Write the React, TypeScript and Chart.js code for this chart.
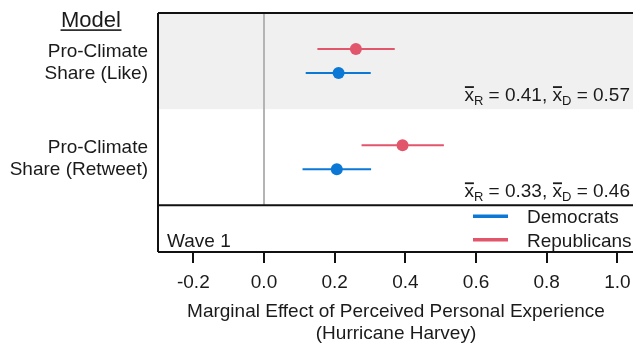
import React, { useEffect, useRef } from "react";
import { Chart, registerables } from "chart.js";

Chart.register(...registerables);

const FONT = '"Liberation Sans", Arial, Helvetica, sans-serif';
const TEXT = "#1a1a1a";
const DEM = "#0B78D6";
const REP = "#E2566C";

// ---- data ----
const modelLabels: string[][] = [
  ["Pro-Climate", "Share (Like)"],
  ["Pro-Climate", "Share (Retweet)"],
];
const demEst = [0.211, 0.206];
const demLo = [0.118, 0.109];
const demHi = [0.302, 0.303];
const repEst = [0.26, 0.392];
const repLo = [0.151, 0.276];
const repHi = [0.37, 0.509];
const meanR = [0.41, 0.33];
const meanD = [0.57, 0.46];
const xTicks = [-0.2, 0, 0.2, 0.4, 0.6, 0.8, 1.0];
const seriesNames = ["Democrats", "Republicans"];
const seriesColors = [DEM, REP];
const waveLabel = "Wave 1";
const headerLabel = "Model";
const axisTitle = ["Marginal Effect of Perceived Personal Experience", "(Hurricane Harvey)"];

const DODGE = 0.25;
const centerOf = (i: number) => 2 * i + 1;

function drawMean(ctx: CanvasRenderingContext2D, rightX: number, baseY: number, r: number, d: number) {
  const big = `19px ${FONT}`;
  const small = `13px ${FONT}`;
  const parts = [
    { t: "x", f: big, bar: true, dy: 0 },
    { t: "R", f: small, bar: false, dy: 3.5 },
    { t: ` = ${r.toFixed(2)}, `, f: big, bar: false, dy: 0 },
    { t: "x", f: big, bar: true, dy: 0 },
    { t: "D", f: small, bar: false, dy: 3.5 },
    { t: ` = ${d.toFixed(2)}`, f: big, bar: false, dy: 0 },
  ];
  let total = 0;
  const widths = parts.map((p) => {
    ctx.font = p.f;
    const w = ctx.measureText(p.t).width;
    total += w;
    return w;
  });
  let px = rightX - total;
  ctx.textAlign = "left";
  ctx.textBaseline = "alphabetic";
  parts.forEach((p, k) => {
    ctx.font = p.f;
    ctx.fillText(p.t, px, baseY + p.dy);
    if (p.bar) ctx.fillRect(px + 0.5, baseY - 15, widths[k] - 0.5, 1.8);
    px += widths[k];
  });
}

const decor = {
  id: "decor",
  beforeDatasetsDraw(chart: any) {
    const { ctx, chartArea: a, scales } = chart;
    const x = scales.x, y = scales.y;
    ctx.save();
    modelLabels.forEach((_, i) => {
      if (i % 2 === 0) {
        const t = y.getPixelForValue(2 * i);
        const b = y.getPixelForValue(2 * i + 2);
        ctx.fillStyle = "#F0F0F0";
        ctx.fillRect(a.left, t, a.right - a.left, b - t);
      }
    });
    const x0 = x.getPixelForValue(0);
    ctx.strokeStyle = "#B4B4B4";
    ctx.lineWidth = 2;
    ctx.beginPath();
    ctx.moveTo(x0, a.top);
    ctx.lineTo(x0, y.getPixelForValue(2 * modelLabels.length));
    ctx.stroke();
    ctx.restore();
  },
  afterDraw(chart: any) {
    const { ctx, chartArea: a, scales } = chart;
    const y = scales.y;
    ctx.save();
    // box
    ctx.strokeStyle = "#111";
    ctx.lineWidth = 2;
    const sep = y.getPixelForValue(2 * modelLabels.length);
    ctx.beginPath();
    ctx.moveTo(a.left, a.top); ctx.lineTo(a.right, a.top);
    ctx.moveTo(a.left, a.top); ctx.lineTo(a.left, a.bottom);
    ctx.moveTo(a.left, a.bottom); ctx.lineTo(a.right, a.bottom);
    ctx.moveTo(a.right, a.top); ctx.lineTo(a.right, a.bottom);
    ctx.moveTo(a.left, sep); ctx.lineTo(a.right, sep);
    ctx.stroke();

    ctx.fillStyle = TEXT;
    // header
    ctx.font = `22px ${FONT}`;
    ctx.textAlign = "center";
    ctx.textBaseline = "alphabetic";
    const hx = a.left - 67;
    ctx.fillText(headerLabel, hx, a.top + 14);
    const hw = ctx.measureText(headerLabel).width;
    ctx.fillRect(hx - hw / 2 - 0.5, a.top + 16.3, hw + 1, 1.6);

    // model labels
    ctx.font = `19px ${FONT}`;
    ctx.textAlign = "right";
    modelLabels.forEach((lines, i) => {
      const cy = y.getPixelForValue(centerOf(i));
      ctx.fillText(lines[0], a.left - 10, cy - 4.2);
      ctx.fillText(lines[1], a.left - 10, cy + 18.2);
    });

    // means
    const annRight = a.right - 4;
    modelLabels.forEach((_, i) => {
      const by = y.getPixelForValue(2 * i + 2) - 8;
      drawMean(ctx, annRight, by, meanR[i], meanD[i]);
    });

    // wave label
    ctx.font = `19px ${FONT}`;
    ctx.textAlign = "left";
    ctx.fillText(waveLabel, a.left + 9, a.bottom - 5.5);

    // legend
    const lx0 = a.right - 161, lx1 = a.right - 126, tx = a.right - 107;
    const rows = [sep + 11, sep + 34.5];
    seriesNames.forEach((name, k) => {
      ctx.strokeStyle = seriesColors[k];
      ctx.lineWidth = 3.5;
      ctx.beginPath();
      ctx.moveTo(lx0, rows[k]);
      ctx.lineTo(lx1, rows[k]);
      ctx.stroke();
      ctx.fillStyle = TEXT;
      ctx.fillText(name, tx, rows[k] + 6.7);
    });
    ctx.restore();
  },
};

export default function App() {
  const ref = useRef<HTMLCanvasElement | null>(null);
  useEffect(() => {
    if (!ref.current) return;
    const pointSets = [
      {
        label: seriesNames[0],
        data: demEst.map((v, i) => ({ x: v, y: centerOf(i) + DODGE })),
        backgroundColor: DEM,
        borderWidth: 0,
        pointRadius: 6,
        showLine: false,
      },
      {
        label: seriesNames[1],
        data: repEst.map((v, i) => ({ x: v, y: centerOf(i) - DODGE })),
        backgroundColor: REP,
        borderWidth: 0,
        pointRadius: 6,
        showLine: false,
      },
    ];
    const barSets: any[] = [];
    modelLabels.forEach((_, i) => {
      barSets.push({
        label: "dem-ci-" + i,
        data: [
          { x: demLo[i], y: centerOf(i) + DODGE },
          { x: demHi[i], y: centerOf(i) + DODGE },
        ],
        borderColor: DEM,
        borderWidth: 2,
        pointRadius: 0,
        showLine: true,
      });
      barSets.push({
        label: "rep-ci-" + i,
        data: [
          { x: repLo[i], y: centerOf(i) - DODGE },
          { x: repHi[i], y: centerOf(i) - DODGE },
        ],
        borderColor: REP,
        borderWidth: 2,
        pointRadius: 0,
        showLine: true,
      });
    });
    const chart = new Chart(ref.current, {
      type: "scatter",
      data: { datasets: [...pointSets, ...barSets] as any },
      options: {
        animation: false,
        responsive: false,
        maintainAspectRatio: false,
        layout: { autoPadding: false, padding: { left: 158, top: 13, right: 0, bottom: 0 } },
        plugins: { legend: { display: false }, tooltip: { enabled: false } },
        scales: {
          x: {
            type: "linear",
            min: -0.3,
            max: 1.047,
            afterBuildTicks: (s: any) => {
              s.ticks = xTicks.map((v) => ({ value: v }));
            },
            afterFit: (s: any) => {
              s.height = 96;
              s.paddingLeft = 0;
              s.paddingRight = 0;
            },
            border: { display: false },
            grid: {
              drawOnChartArea: false,
              drawTicks: true,
              tickLength: 11,
              color: "#111",
              lineWidth: 2,
            },
            ticks: {
              padding: 8,
              color: TEXT,
              font: { family: FONT, size: 19 },
              maxRotation: 0,
              autoSkip: false,
              callback: (v: any) => Number(v).toFixed(1),
            },
            title: {
              display: true,
              text: axisTitle,
              color: TEXT,
              font: { family: FONT, size: 19, lineHeight: 1.2 },
              padding: { top: 0, bottom: 2.5 },
            },
          },
          y: {
            type: "linear",
            display: false,
            min: 0,
            max: 2 * modelLabels.length + 0.97,
            reverse: true,
          },
        },
      },
      plugins: [decor],
    });
    return () => chart.destroy();
  }, []);
  return (
    <div
      style={{
        position: "fixed",
        left: 0,
        top: 0,
        width: 633,
        height: 348,
        overflow: "hidden",
        background: "#fff",
      }}
    >
      <canvas ref={ref} width={634} height={348} style={{ display: "block", width: 634, height: 348 }} />
    </div>
  );
}
